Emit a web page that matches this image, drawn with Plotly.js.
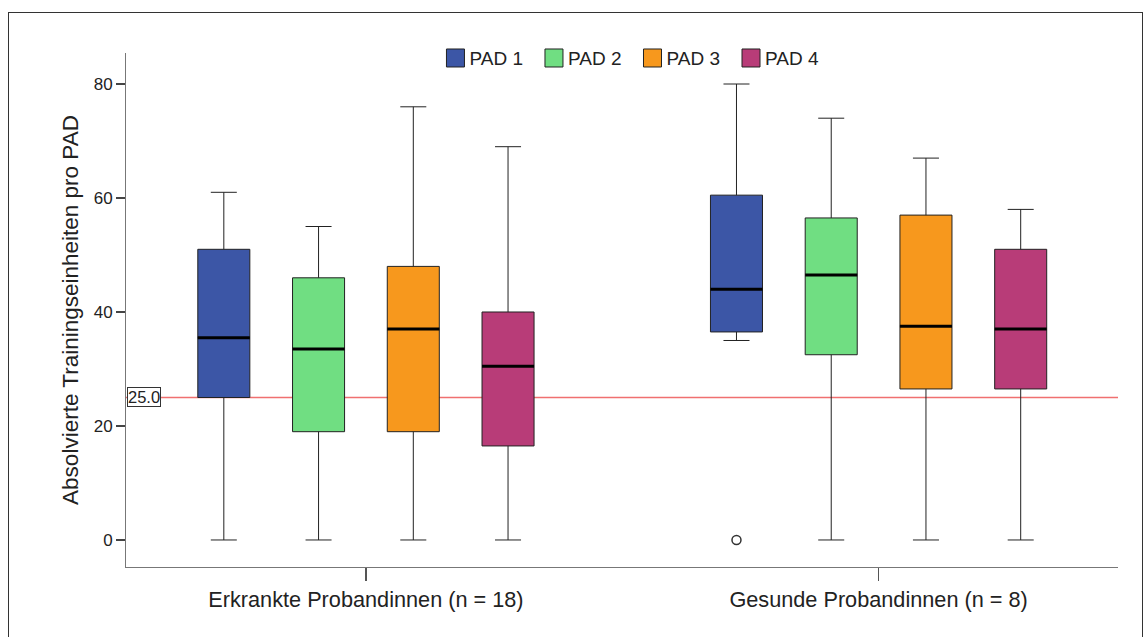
<!DOCTYPE html>
<html>
<head>
<meta charset="utf-8">
<script src="https://cdn.plot.ly/plotly-3.0.1.min.js"></script>
<style>
  html, body { margin: 0; padding: 0; background: #fff; }
  #wrap { position: relative; width: 1144px; height: 637px; overflow: hidden; }
  #chart { width: 1144px; height: 637px; }
  #frame { position: absolute; left: 8px; top: 12px; width: 1135px; height: 640px;
           border: 1px solid #333; box-sizing: border-box; pointer-events: none; }
</style>
</head>
<body>
<div id="wrap"><div id="chart"></div><div id="frame"></div></div>
<script>
// ---- data ----
const groups = ["Erkrankte Probandinnen (n = 18)", "Gesunde Probandinnen (n = 8)"];
const pads = ["PAD 1", "PAD 2", "PAD 3", "PAD 4"];
const padColors = ["#3c56a6", "#70de82", "#f7981d", "#b83c78"];

const lowerFence = { "PAD 1": [0, 35],   "PAD 2": [0, 0],     "PAD 3": [0, 0],     "PAD 4": [0, 0] };
const q1Vals     = { "PAD 1": [25, 36.5], "PAD 2": [19, 32.5], "PAD 3": [19, 26.5], "PAD 4": [16.5, 26.5] };
const medianVals = { "PAD 1": [35.5, 44], "PAD 2": [33.5, 46.5], "PAD 3": [37, 37.5], "PAD 4": [30.5, 37] };
const q3Vals     = { "PAD 1": [51, 60.5], "PAD 2": [46, 56.5], "PAD 3": [48, 57],   "PAD 4": [40, 51] };
const upperFence = { "PAD 1": [61, 80],   "PAD 2": [55, 74],   "PAD 3": [76, 67],   "PAD 4": [69, 58] };
// outliers: [pad, group index, value]
const outliers = [["PAD 1", 1, 0]];
const referenceValue = 25;

// ---- layout helpers ----
const boxStep = 0.1848;
const boxWidth = 0.1015;
function pos(g, p) { return g + (p - (pads.length - 1) / 2) * boxStep; }

const traces = [];
pads.forEach((pad, p) => {
  const xs = groups.map((_, g) => pos(g, p));
  traces.push({
    type: "box",
    name: pad,
    x: xs,
    q1: q1Vals[pad],
    median: medianVals[pad],
    q3: q3Vals[pad],
    lowerfence: lowerFence[pad],
    upperfence: upperFence[pad],
    width: boxWidth,
    boxpoints: false,
    whiskerwidth: 0.5,
    fillcolor: padColors[p],
    line: { color: "#222", width: 1 },
    hoverinfo: "skip"
  });
});
// thick median lines
pads.forEach((pad, p) => {
  const mx = [], my = [];
  groups.forEach((_, g) => {
    const c = pos(g, p);
    mx.push(c - boxWidth / 2, c + boxWidth / 2, null);
    my.push(medianVals[pad][g], medianVals[pad][g], null);
  });
  traces.push({
    type: "scatter", mode: "lines", x: mx, y: my, showlegend: false,
    line: { color: "#000", width: 3 }, hoverinfo: "skip"
  });
});
// outliers
traces.push({
  type: "scatter", mode: "markers",
  x: outliers.map(o => pos(o[1], pads.indexOf(o[0]))),
  y: outliers.map(o => o[2]),
  showlegend: false,
  marker: { symbol: "circle-open", size: 9, color: "#333", line: { width: 1.5 } },
  hoverinfo: "skip"
});

const layout = {
  width: 1144, height: 637,
  margin: { l: 126, r: 26, t: 53, b: 70 },
  paper_bgcolor: "#fff", plot_bgcolor: "#fff",
  font: { family: "Liberation Sans, Arial, sans-serif", color: "#222", size: 16 },
  showlegend: true,
  legend: {
    orientation: "h", x: 0.505, xanchor: "center", y: 0.99, yanchor: "middle",
    font: { size: 19, color: "#222" }, bgcolor: "rgba(0,0,0,0)",
    traceorder: "normal"
  },
  xaxis: {
    range: [-0.468, 1.467],
    tickmode: "array", tickvals: groups.map((_, g) => g), ticktext: groups,
    showgrid: false, zeroline: false,
    showline: true, linecolor: "#777", linewidth: 1,
    ticks: "outside", ticklen: 13, tickcolor: "#555", tickwidth: 1.5,
    tickfont: { size: 21.7, color: "#222" }
  },
  yaxis: {
    range: [-4.74, 85.44],
    tickvals: [0, 20, 40, 60, 80],
    showgrid: false, zeroline: false,
    showline: true, linecolor: "#777", linewidth: 1,
    ticks: "outside", ticklen: 9, tickcolor: "#444", tickwidth: 1.5,
    tickfont: { size: 17, color: "#222" },
    title: { text: "Absolvierte Trainingseinheiten pro PAD", font: { size: 22.5, color: "#222" }, standoff: 8 }
  },
  shapes: [{
    type: "line", xref: "paper", x0: 0, x1: 1, yref: "y", y0: referenceValue, y1: referenceValue,
    line: { color: "#f07070", width: 1.5 }, layer: "below"
  }],
  annotations: [{
    xref: "paper", x: 0.001, xanchor: "left", yref: "y", y: referenceValue, yanchor: "middle",
    text: referenceValue.toFixed(1), showarrow: false,
    font: { size: 16.5, color: "#222" },
    bgcolor: "#fff", bordercolor: "#333", borderwidth: 1, borderpad: 0
  }]
};

Plotly.newPlot("chart", traces, layout, { displayModeBar: false, staticPlot: true }).then(gd => {
  // enlarge legend swatches to match the reference's larger squares
  gd.querySelectorAll(".legend path.legendbox").forEach(p => {
    p.setAttribute("d", "M9,9H-9V-9H9Z");
    p.setAttribute("transform", "translate(26,0)");
  });
});
</script>
</body>
</html>
